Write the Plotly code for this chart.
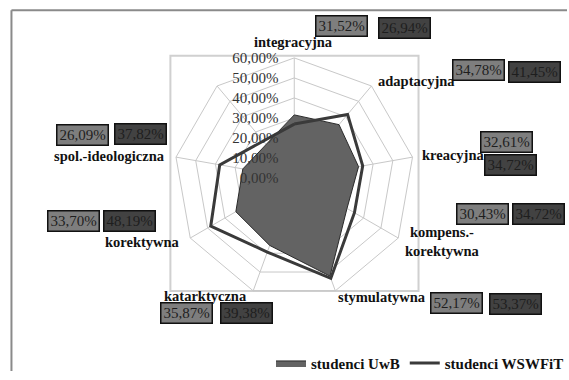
import plotly.graph_objects as go

W, H = 569, 380

categories = ["integracyjna", "adaptacyjna", "kreacyjna", "kompens.-korektywna",
              "stymulatywna", "katarktyczna", "korektywna", "spol.-ideologiczna", " "]
uwb = [31.52, 34.78, 32.61, 30.43, 52.17, 35.87, 33.70, 26.09, None]
wswfit = [26.94, 41.45, 34.72, 34.72, 53.37, 39.38, 48.19, 37.82, None]
series_names = ["studenci UwB", "studenci WSWFiT"]
radial_ticks = [0, 10, 20, 30, 40, 50, 60]
radial_ticktext = [f"{v:.2f}".replace(".", ",") + "%" for v in radial_ticks]

FONT = "Liberation Serif"

def closed(vals):
    return vals + [vals[0]]

theta_c = closed(categories)

fig = go.Figure()
fig.add_trace(go.Scatterpolar(
    r=closed(uwb), theta=theta_c, name=series_names[0], mode="lines",
    fill="toself", fillcolor="#636363", line=dict(color="#2a2a2a", width=1),
    connectgaps=True,
))
fig.add_trace(go.Scatterpolar(
    r=closed(wswfit), theta=theta_c, name=series_names[1], mode="lines",
    line=dict(color="#3a3a3a", width=3), connectgaps=True,
))

cx, cy, R = 295.3, 182.3, 123.0
fig.update_layout(
    width=W, height=H, margin=dict(l=0, r=0, t=0, b=0),
    paper_bgcolor="white", plot_bgcolor="white",
    font=dict(family=FONT, color="#222"),
    polar=dict(
        domain=dict(x=[(cx - R) / W, (cx + R) / W], y=[1 - (cy + R) / H, 1 - (cy - R) / H]),
        bgcolor="rgba(0,0,0,0)",
        gridshape="linear",
        angularaxis=dict(type="category", categoryorder="array", categoryarray=categories,
                         rotation=90, direction="clockwise",
                         showticklabels=False, ticks="", showline=True,
                         linecolor="#c8c8c8", linewidth=1, gridcolor="#c8c8c8", gridwidth=1),
        radialaxis=dict(range=[0, 60], tickvals=radial_ticks, ticktext=radial_ticktext,
                        angle=90, tickangle=90, showline=False,
                        ticks="outside", ticklen=10, tickcolor="rgba(0,0,0,0)",
                        side="counterclockwise",
                        gridcolor="#c8c8c8", gridwidth=1,
                        tickfont=dict(family=FONT, size=15, color="#333")),
    ),
    showlegend=True,
    legend=dict(orientation="h", x=272 / W, y=1 - 372 / H, xanchor="left", yanchor="middle",
                font=dict(family=FONT, size=15, color="#111", weight="bold"),
                bgcolor="rgba(0,0,0,0)", itemwidth=30),
)

# chart border and plot-area frame
fig.add_shape(type="line", xref="paper", yref="paper", x0=11.5 / W, x1=11.5 / W, y0=0, y1=1 - 10.5 / H,
              line=dict(color="#8a8a8a", width=2))
fig.add_shape(type="line", xref="paper", yref="paper", x0=11.5 / W, x1=1, y0=1 - 10.5 / H, y1=1 - 10.5 / H,
              line=dict(color="#8a8a8a", width=2))
fig.add_shape(type="rect", xref="paper", yref="paper", x0=171 / W, x1=420 / W, y0=1 - 298 / H, y1=1 - 57 / H,
              line=dict(color="#d0d0d0", width=2), layer="below")

# category labels
label_pos = [
    ("integracyjna", 295, 43, "center"),
    ("adaptacyjna", 377, 83, "left"),
    ("kreacyjna", 421, 159, "left"),
    ("kompens.-<br>korektywna", 444, 247, "center"),
    ("stymulatywna", 337, 304, "left"),
    ("katarktyczna", 250, 303, "right"),
    ("korektywna", 183, 248, "right"),
    ("spol.-ideologiczna", 168, 160, "right"),
]
for txt, x, y, al in label_pos:
    fig.add_annotation(x=x / W, y=1 - y / H, xref="paper", yref="paper", text=txt,
                       showarrow=False, xanchor=al, yanchor="middle", align="center",
                       font=dict(family=FONT, size=14.5, color="#111", weight="bold"))

# value boxes (centers in pixels) for each category: (uwb box), (wswfit box)
box_pos = [
    ((342.5, 26.3), (406, 29)),
    ((480, 72), (536, 74)),
    ((508.5, 145), (512.5, 169)),
    ((484, 219), (540, 219.5)),
    ((458, 310), (517, 311)),
    ((187, 320.5), (247.5, 320.5)),
    ((73.5, 226.5), (129.5, 226.5)),
    ((83, 138), (141, 137)),
]
def fmt(v):
    return f"{v:.2f}".replace(".", ",") + "%"

for i, ((ux, uy), (wx, wy)) in enumerate(box_pos):
    for val, (x, y), bg in ((uwb[i], (ux, uy), "#7e7e7e"), (wswfit[i], (wx, wy), "#424242")):
        fig.add_annotation(x=x / W, y=1 - y / H, xref="paper", yref="paper", text=fmt(val),
                           showarrow=False, xanchor="center", yanchor="middle",
                           width=48, height=17,
                           bgcolor=bg, bordercolor="#111", borderwidth=1.5, borderpad=1,
                           font=dict(family=FONT, size=15, color="#1e1e1e"))

fig.write_html("out.html")
